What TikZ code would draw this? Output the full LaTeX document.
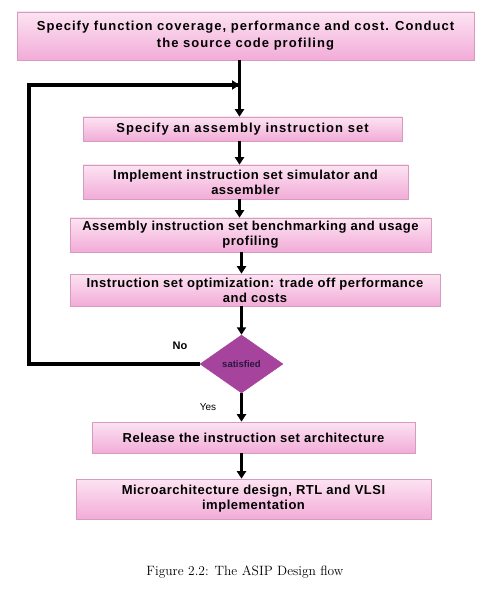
\documentclass[tikz,border=0pt]{standalone}
\usepackage{fontspec}
\setmainfont{Latin Modern Roman}
\newfontfamily\boxfont[LetterSpace=4]{Liberation Sans}
\newfontfamily\boxfontwide[LetterSpace=8]{Liberation Sans}
\newfontfamily\labelfont{Liberation Sans}
\usepackage{xcolor}
\usepackage{tikz}
\usetikzlibrary{positioning,shapes.geometric,arrows.meta,shadows}

\definecolor{boxtop}{HTML}{FCE3F2}
\definecolor{boxbot}{HTML}{F2ACD8}
\definecolor{boxline}{HTML}{D69CC0}
\definecolor{decfill}{HTML}{A6439D}
\definecolor{dectext}{HTML}{2A1840}

\begin{document}
\begin{tikzpicture}[x=1pt, y=1pt,
        stepbox/.style={draw=boxline, line width=0.6pt, top color=boxtop, bottom color=boxbot,
            drop shadow={opacity=0.25, shadow xshift=1.2pt, shadow yshift=-1.2pt},
            align=center, inner sep=1pt, font=\boxfont\bfseries\fontsize{13}{15}\selectfont},
        widebox/.style={stepbox, font=\boxfontwide\bfseries\fontsize{13}{17}\selectfont},
        decision/.style={diamond, fill=decfill, draw=decfill, inner sep=0pt,
            minimum width=83pt, minimum height=58pt, aspect=1.43,
            font=\labelfont\bfseries\fontsize{9.5}{10}\selectfont, text=dectext},
        arr/.style={line width=3pt, -{Triangle[width=9pt,length=7.5pt]}},
        flow/.style={line width=3.2pt}]
    \useasboundingbox (0,0) rectangle (493,-593);

    \node[widebox, minimum width=457pt, minimum height=48pt] (spec) at (245.5,-36)
        {Specify function coverage, performance and cost. Conduct\\the source code profiling};
    \node[widebox, minimum width=319pt, minimum height=24pt] (isa) at (242.5,-129)
        {Specify an assembly instruction set};
    \node[stepbox, minimum width=325pt, minimum height=34pt] (sim) at (245.5,-182)
        {Implement instruction set simulator and\\assembler};
    \node[stepbox, minimum width=361pt, minimum height=34pt] (bench) at (250.5,-235)
        {Assembly instruction set benchmarking and usage\\profiling};
    \node[stepbox, minimum width=370pt, minimum height=32pt] (opt) at (255,-290)
        {Instruction set optimization: trade off performance\\and costs};
    \node[decision] (sat) at (241.5,-364) {satisfied};
    \node[stepbox, minimum width=323pt, minimum height=31pt] (rel) at (253.5,-437.5)
        {Release the instruction set architecture};
    \node[stepbox, minimum width=355pt, minimum height=40pt] (micro) at (253.5,-499)
        {Microarchitecture design, RTL and VLSI\\implementation};

    \node[font=\labelfont\bfseries\fontsize{11}{12}\selectfont] (no) at (180,-346) {No};
    \node[font=\labelfont\fontsize{10}{11}\selectfont] (yes) at (208,-407) {Yes};
    \node[font=\fontsize{13.5}{15}\selectfont] (cap) at (245,-572) {Figure 2.2: The ASIP Design flow};

    % main column and loop corners
    \coordinate (col) at (239.5,0);
    \coordinate (join) at (239.5,-85);
    \coordinate (upleft) at (29,-85);

    \draw[arr] (spec.south -| col) -- (isa.north -| col);
    \draw[arr] (isa.south -| col) -- (sim.north -| col);
    \draw[arr] (sim.south -| col) -- (bench.north -| col);
    \draw[arr] ([xshift=2pt]bench.south -| col) -- ([xshift=2pt]opt.north -| col);
    \draw[arr] ([xshift=2pt]opt.south -| col) -- (sat.north);
    \draw[arr] (sat.south) -- (sat.south |- rel.north);
    \draw[arr] (rel.south -| sat) -- (micro.north -| sat);

    % back to the top when not satisfied
    \draw[flow, line join=miter] (sat.west) -- (sat.west -| upleft) -- (upleft) -- ([xshift=-1.5pt]upleft -| col);
    \draw[arr] (upleft) -- (join);
\end{tikzpicture}
\end{document}
